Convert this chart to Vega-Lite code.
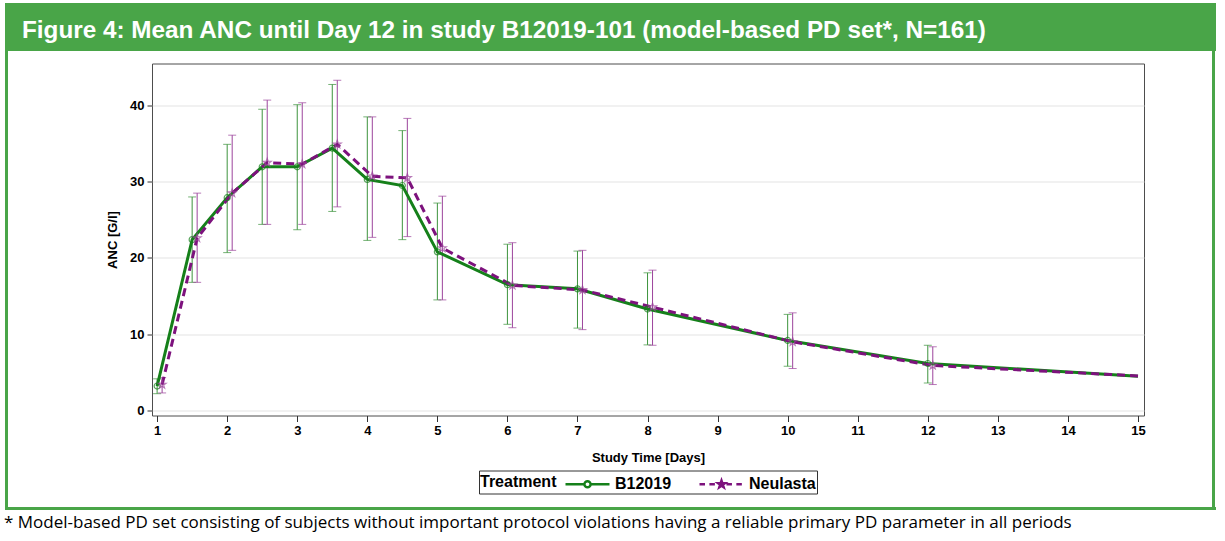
{
  "$schema": "https://vega.github.io/schema/vega-lite/v6.json",
  "background": "white",
  "padding": {"left": 4, "top": 3, "right": 0, "bottom": 8},
  "spacing": 0,
  "resolve": {"scale": {"color": "independent"}, "legend": {"color": "independent"}},
  "config": {
    "font": "Liberation Sans",
    "concat": {"spacing": 0},
    "axis": {"labelColor": "black", "titleColor": "black", "labelFont": "Liberation Sans", "titleFont": "Liberation Sans"},
    "legend": {"layout": {"bottom": {"anchor": "middle"}}}
  },
  "title": {
    "text": "* Model-based PD set consisting of subjects without important protocol violations having a reliable primary PD parameter in all periods",
    "orient": "bottom", "anchor": "start", "frame": "bounds",
    "fontSize": 17, "fontWeight": "normal", "color": "black", "font": "Open Sans",
    "offset": 5, "dx": -1
  },
  "datasets": {
    "anc": [
      {"day": 1, "treatment": "B12019", "mean": 3.2, "lo": 2.2, "hi": 4.15},
      {"day": 1.5, "treatment": "B12019", "mean": 22.4, "lo": 16.8, "hi": 28.0},
      {"day": 2, "treatment": "B12019", "mean": 27.9, "lo": 20.7, "hi": 34.9},
      {"day": 2.5, "treatment": "B12019", "mean": 31.95, "lo": 24.4, "hi": 39.5},
      {"day": 3, "treatment": "B12019", "mean": 31.95, "lo": 23.7, "hi": 40.1},
      {"day": 3.5, "treatment": "B12019", "mean": 34.4, "lo": 26.1, "hi": 42.75},
      {"day": 4, "treatment": "B12019", "mean": 30.3, "lo": 22.3, "hi": 38.5},
      {"day": 4.5, "treatment": "B12019", "mean": 29.5, "lo": 22.4, "hi": 36.7},
      {"day": 5, "treatment": "B12019", "mean": 20.8, "lo": 14.5, "hi": 27.2},
      {"day": 6, "treatment": "B12019", "mean": 16.5, "lo": 11.3, "hi": 21.8},
      {"day": 7, "treatment": "B12019", "mean": 15.95, "lo": 10.8, "hi": 20.9},
      {"day": 8, "treatment": "B12019", "mean": 13.3, "lo": 8.6, "hi": 18.05},
      {"day": 10, "treatment": "B12019", "mean": 9.18, "lo": 5.8, "hi": 12.6},
      {"day": 12, "treatment": "B12019", "mean": 6.16, "lo": 3.6, "hi": 8.55},
      {"day": 15, "treatment": "B12019", "mean": 4.5, "lo": null, "hi": null},
      {"day": 1, "treatment": "Neulasta", "mean": 3.4, "lo": 2.3, "hi": 4.3},
      {"day": 1.5, "treatment": "Neulasta", "mean": 22.6, "lo": 16.8, "hi": 28.5},
      {"day": 2, "treatment": "Neulasta", "mean": 28.5, "lo": 21.0, "hi": 36.1},
      {"day": 2.5, "treatment": "Neulasta", "mean": 32.5, "lo": 24.4, "hi": 40.7},
      {"day": 3, "treatment": "Neulasta", "mean": 32.3, "lo": 24.4, "hi": 40.35},
      {"day": 3.5, "treatment": "Neulasta", "mean": 34.9, "lo": 26.7, "hi": 43.3},
      {"day": 4, "treatment": "Neulasta", "mean": 30.7, "lo": 22.7, "hi": 38.5},
      {"day": 4.5, "treatment": "Neulasta", "mean": 30.5, "lo": 22.8, "hi": 38.3},
      {"day": 5, "treatment": "Neulasta", "mean": 21.3, "lo": 14.5, "hi": 28.1},
      {"day": 6, "treatment": "Neulasta", "mean": 16.4, "lo": 10.85, "hi": 22.0},
      {"day": 7, "treatment": "Neulasta", "mean": 15.8, "lo": 10.6, "hi": 21.0},
      {"day": 8, "treatment": "Neulasta", "mean": 13.55, "lo": 8.55, "hi": 18.4},
      {"day": 10, "treatment": "Neulasta", "mean": 9.0, "lo": 5.5, "hi": 12.8},
      {"day": 12, "treatment": "Neulasta", "mean": 5.9, "lo": 3.4, "hi": 8.35},
      {"day": 15, "treatment": "Neulasta", "mean": 4.5, "lo": null, "hi": null}
    ]
  },
  "vconcat": [
    {
      "width": 1211, "height": 48,
      "data": {"values": []},
      "mark": "point",
      "view": {"fill": "#49a548", "stroke": null},
      "title": {
        "text": "Figure 4: Mean ANC until Day 12 in study B12019-101 (model-based PD set*, N=161)",
        "color": "white", "fontSize": 24.3, "fontWeight": "bold", "font": "Liberation Sans",
        "anchor": "start", "frame": "group", "offset": -40, "dx": 17
      }
    },
    {
      "resolve": {"scale": {"color": "independent"}, "legend": {"color": "independent"}},
      "hconcat": [
        {"width": 3, "height": 456, "data": {"values": []}, "mark": "point", "view": {"fill": "#49a548", "stroke": null}},
        {"width": 98, "height": 10, "data": {"values": []}, "mark": "point", "view": {"fill": null, "stroke": null}},
        {
          "width": 992, "height": 352,
          "data": {"name": "anc"},
          "view": {"stroke": "#4d4d4d", "strokeWidth": 1, "fill": "white"},
          "encoding": {
            "x": {
              "field": "day", "type": "quantitative", "title": "Study Time [Days]",
              "scale": {"domain": [0.927, 15.086], "nice": false, "zero": false},
              "axis": {
                "values": [1,2,3,4,5,6,7,8,9,10,11,12,13,14,15], "format": "d",
                "labelFontSize": 13, "labelFontWeight": "bold", "tickSize": 6, "tickColor": "#333",
                "domain": false, "grid": false, "labelPadding": 3,
                "titleFontSize": 13, "titleFontWeight": "bold", "titlePadding": 14
              }
            }
          },
          "layer": [
            {
              "transform": [{"filter": "datum.treatment === 'B12019' && isValid(datum.lo)"}],
              "mark": {"type": "rule", "color": "#3d933d", "strokeWidth": 1},
              "encoding": {
                "y": {"field": "lo", "type": "quantitative", "title": "ANC [G/l]",
                  "scale": {"domain": [-0.66, 45.5], "nice": false, "zero": false},
                  "axis": {"values": [0,10,20,30,40], "grid": true, "gridColor": "#e3e3e3", "tickSize": 5, "tickColor": "#333",
                    "domain": false, "labelPadding": 3, "labelFontSize": 13, "labelFontWeight": "bold",
                    "titleFontSize": 13, "titleFontWeight": "bold", "titlePadding": 10}},
                "y2": {"field": "hi"}
              }
            },
            {
              "transform": [{"filter": "datum.treatment === 'B12019' && isValid(datum.lo)"}, {"fold": ["lo", "hi"], "as": ["bound", "v"]}],
              "mark": {"type": "point", "shape": "M-1,0H1", "size": 64, "filled": false, "stroke": "#3d933d", "strokeWidth": 1},
              "encoding": {"y": {"field": "v", "type": "quantitative", "title": "ANC [G/l]"}}
            },
            {
              "transform": [{"filter": "datum.treatment === 'Neulasta' && isValid(datum.lo)"}],
              "mark": {"type": "rule", "color": "#9c449c", "strokeWidth": 1, "xOffset": 5},
              "encoding": {
                "y": {"field": "lo", "type": "quantitative", "title": "ANC [G/l]"},
                "y2": {"field": "hi"}
              }
            },
            {
              "transform": [{"filter": "datum.treatment === 'Neulasta' && isValid(datum.lo)"}, {"fold": ["lo", "hi"], "as": ["bound", "v"]}],
              "mark": {"type": "point", "shape": "M-1,0H1", "size": 64, "filled": false, "stroke": "#9c449c", "strokeWidth": 1, "xOffset": 5},
              "encoding": {"y": {"field": "v", "type": "quantitative", "title": "ANC [G/l]"}}
            },
            {
              "transform": [{"filter": "datum.treatment === 'B12019'"}],
              "mark": {"type": "line", "strokeWidth": 3, "clip": true},
              "encoding": {
                "y": {"field": "mean", "type": "quantitative", "title": "ANC [G/l]"},
                "color": {
                  "field": "treatment", "type": "nominal",
                  "scale": {"domain": ["B12019", "Neulasta"], "range": ["#15801a", "#7d127d"]},
                  "legend": {
                    "title": "Treatment", "orient": "bottom", "direction": "horizontal",
                    "titleOrient": "left", "titleFontSize": 16, "titleFontWeight": "bold", "titleColor": "black",
                    "titleFont": "Liberation Sans", "titlePadding": 18, "titleBaseline": "middle", "titleAnchor": "middle",
                    "labelFontSize": 16, "labelFontWeight": "bold", "labelColor": "black", "labelFont": "Liberation Sans",
                    "strokeColor": "#333", "padding": 1, "offset": 6,
                    "symbolSize": 484, "symbolStrokeWidth": 2.5, "columnPadding": 22, "labelOffset": 15,
                    "encode": {
                      "symbols": {
                        "update": {
                          "shape": {"signal": "datum.value === 'Neulasta' ? 'M-2,0H-1.5M-1.1,0H-0.6M0.45,0H0.95M1.35,0H1.85M0,-0.33L0.078,-0.107L0.314,-0.102L0.125,0.041L0.194,0.267L0,0.132L-0.194,0.267L-0.125,0.041L-0.314,-0.102L-0.078,-0.107Z' : 'M-2,0H-0.28M0.28,0H2M-0.28,0A0.28,0.28,0,1,1,0.28,0A0.28,0.28,0,1,1,-0.28,0'"},
                          "fill": {"value": "transparent"}
                        }
                      }
                    }
                  }
                }
              }
            },
            {
              "transform": [{"filter": "datum.treatment === 'Neulasta'"}],
              "mark": {"type": "line", "strokeWidth": 3, "strokeDash": [8, 5], "xOffset": 5, "clip": true},
              "encoding": {
                "y": {"field": "mean", "type": "quantitative", "title": "ANC [G/l]"},
                "color": {"field": "treatment", "type": "nominal"}
              }
            },
            {
              "transform": [{"filter": "datum.treatment === 'B12019' && isValid(datum.lo)"}],
              "mark": {"type": "point", "shape": "circle", "size": 36, "filled": false, "stroke": "#15801a", "strokeWidth": 1.2},
              "encoding": {"y": {"field": "mean", "type": "quantitative", "title": "ANC [G/l]"}}
            },
            {
              "transform": [{"filter": "datum.treatment === 'Neulasta' && isValid(datum.lo)"}],
              "mark": {"type": "point", "shape": "M0,-1L0.235,-0.324L0.951,-0.309L0.38,0.124L0.588,0.809L0,0.4L-0.588,0.809L-0.38,0.124L-0.951,-0.309L-0.235,-0.324Z", "size": 70, "filled": false, "stroke": "#9c449c", "strokeWidth": 1.2, "xOffset": 5},
              "encoding": {"y": {"field": "mean", "type": "quantitative", "title": "ANC [G/l]"}}
            }
          ]
        },
        {"width": 66, "height": 10, "data": {"values": []}, "mark": "point", "view": {"fill": null, "stroke": null}},
        {"width": 3, "height": 456, "data": {"values": []}, "mark": "point", "view": {"fill": "#49a548", "stroke": null}}
      ],
      "spacing": 0,
      "center": true
    },
    {
      "width": 1211, "height": 3,
      "data": {"values": []},
      "mark": "point",
      "view": {"fill": "#49a548", "stroke": null}
    }
  ]
}
